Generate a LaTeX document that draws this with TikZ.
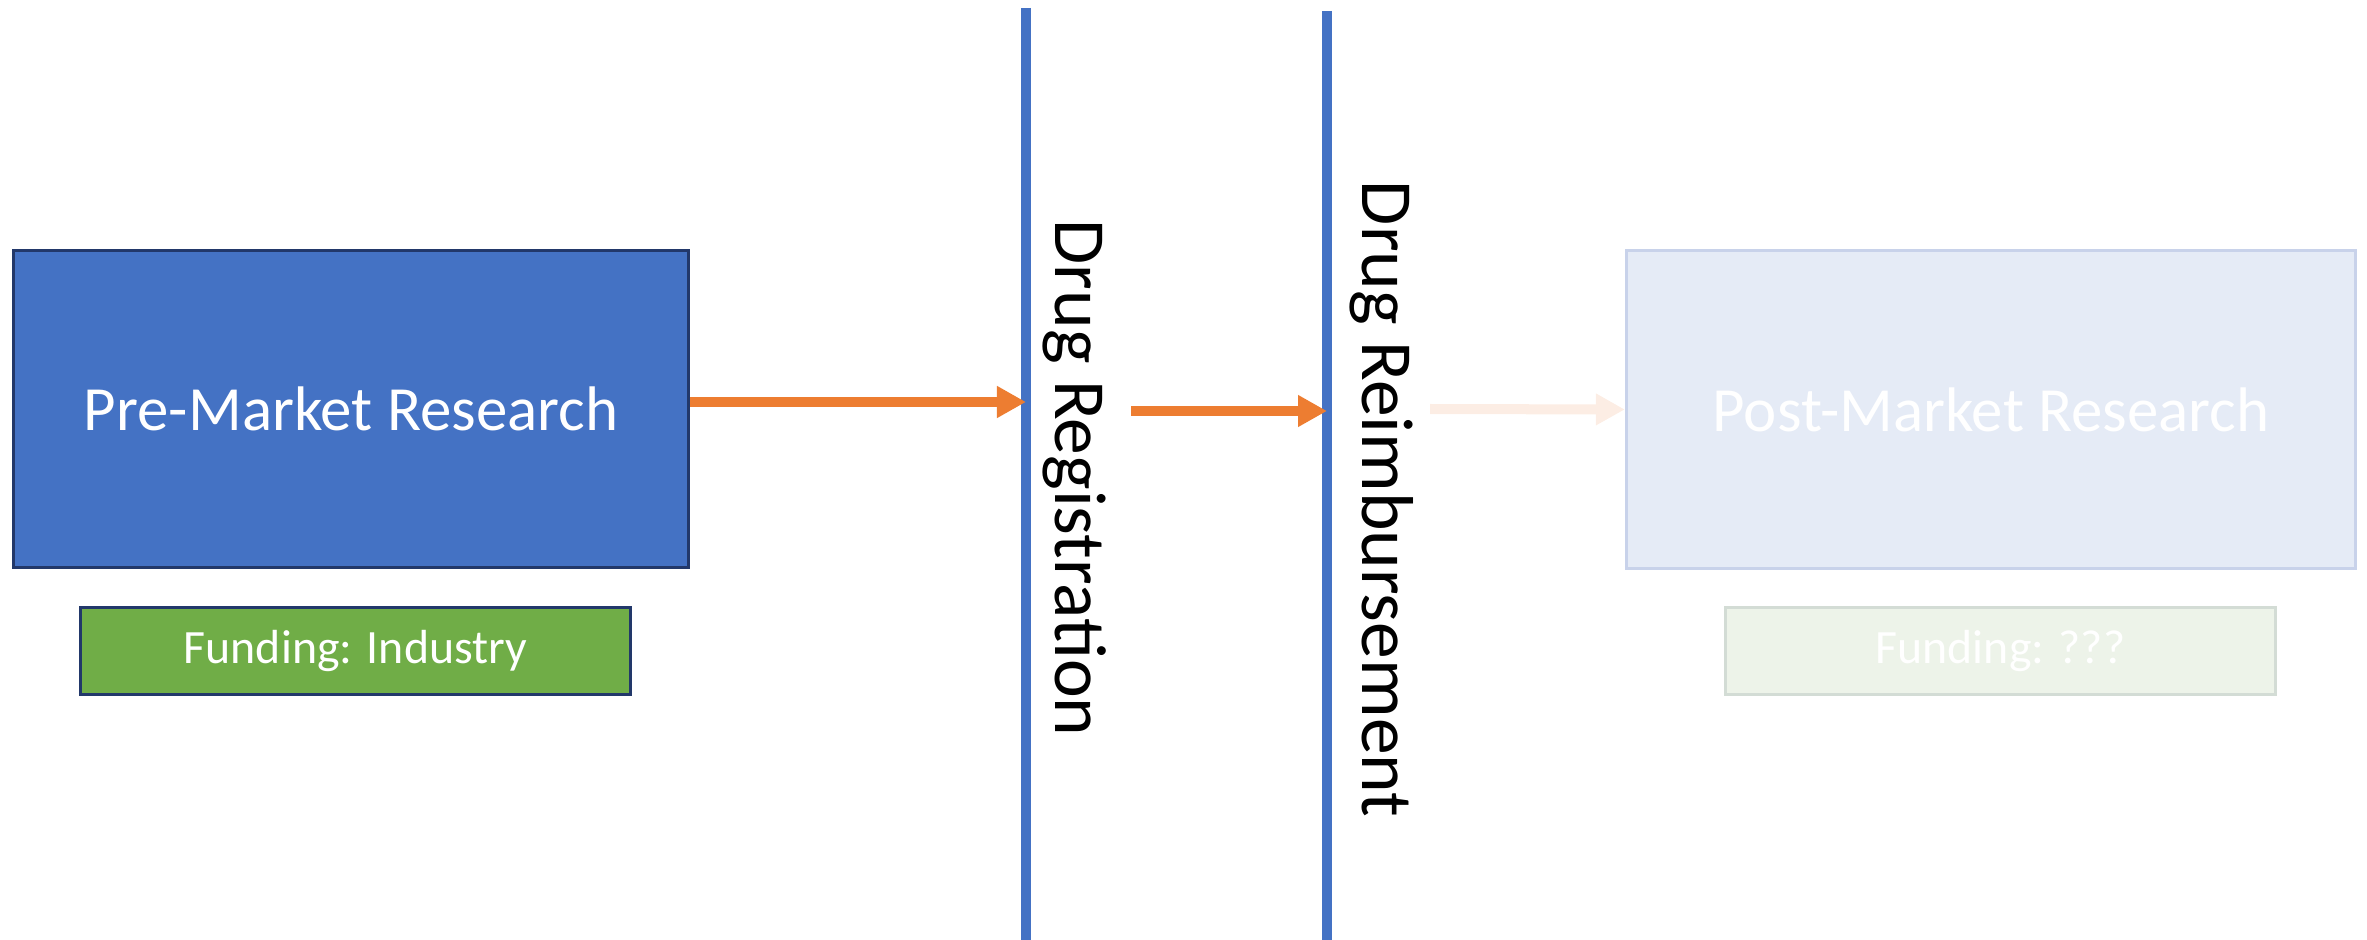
\documentclass[tikz,border=0pt]{standalone}
\usepackage{fontspec}
\setmainfont{Carlito}
\usetikzlibrary{arrows.meta}

\definecolor{accblue}{HTML}{4472C4}
\definecolor{navyedge}{HTML}{22386A}
\definecolor{accgreen}{HTML}{70AD47}
\definecolor{accorange}{HTML}{ED7D31}
\definecolor{paleblue}{HTML}{E5EBF6}
\definecolor{paleblueedge}{HTML}{C8D2EA}
\definecolor{palegreen}{HTML}{EDF3E9}
\definecolor{palegreenedge}{HTML}{D3DCD5}
\definecolor{paleorange}{HTML}{FCEDE4}

\tikzset{
  phasebox/.style={rectangle, inner sep=0pt, line width=0.03cm,
    minimum width=6.75cm, minimum height=3.17cm, text=white,
    font=\fontsize{17.9}{21}\selectfont},
  fundbox/.style={rectangle, inner sep=0pt, line width=0.03cm,
    minimum width=5.49cm, minimum height=0.87cm, text=white,
    font=\fontsize{13.6}{16}\selectfont},
  gateline/.style={draw=accblue, line width=0.1cm},
  gatelabel/.style={rotate=-90, anchor=base, inner sep=0pt,
    font=\fontsize{20.9}{24}\selectfont},
  flow/.style={line width=0.1cm,
    -{Triangle[length=0.29cm, width=0.30cm]}},
}

\begin{document}
\begin{tikzpicture}[x=0.01cm, y=-0.01cm]
  \useasboundingbox (0,0) rectangle (2367,940);

  % research phases
  \node[phasebox, fill=accblue, draw=navyedge] (pre) at (351,409) {Pre-Market Research};
  \node[fundbox, fill=accgreen, draw=navyedge] (fundpre) at (355.5,651) {Funding: Industry};
  \node[phasebox, minimum width=7.29cm, fill=paleblue, draw=paleblueedge] (post) at (1991,409.5) {Post-Market Research};
  \node[fundbox, minimum width=5.50cm, fill=palegreen, draw=palegreenedge] (fundpost) at (2000.5,651) {Funding: ???};

  % regulatory gates
  \coordinate (g1top) at (1026,8);
  \coordinate (g1bot) at (1026,940);
  \coordinate (g2top) at (1327,11);
  \coordinate (g2bot) at (1327,940);
  \draw[gateline] (g1top) -- (g1bot);
  \draw[gateline] (g2top) -- (g2bot);
  \node[gatelabel] (reglabel) at (1055,478) {Drug Registration};
  \node[gatelabel] (reimblabel) at (1362,499) {Drug Reimbursement};

  % flow arrows
  \coordinate (reg) at (1026,402);
  \coordinate (a2s) at (1131,411);
  \coordinate (reimb) at (1327,411);
  \coordinate (a3s) at (1430,409);
  \draw[flow, accorange] (pre.east |- reg) -- (reg);
  \draw[flow, accorange] (a2s) -- (reimb);
  \draw[flow, paleorange] (a3s) -- (post.west);
\end{tikzpicture}
\end{document}
